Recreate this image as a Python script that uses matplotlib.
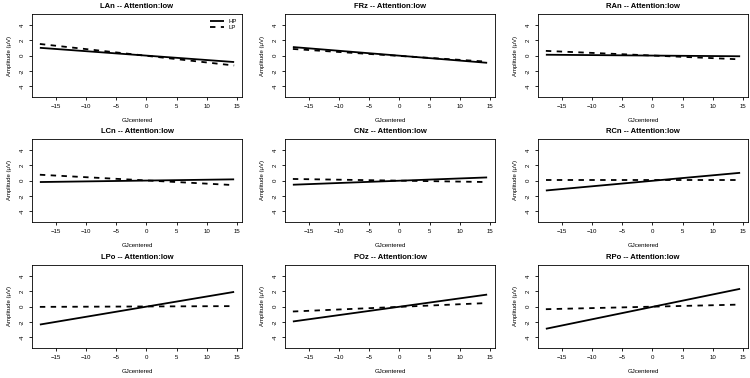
import matplotlib
matplotlib.use("Agg")
import matplotlib.pyplot as plt

plt.rcParams['font.family'] = ['Liberation Sans', 'DejaVu Sans']

channels = ["LAn", "FRz", "RAn", "LCn", "CNz", "RCn", "LPo", "POz", "RPo"]
x_ends = [-17.6, 14.5]
hp_vals = [[1.0, -0.85], [1.1, -0.95], [0.1, -0.1],
           [-0.2, 0.15], [-0.55, 0.4], [-1.3, 1.0],
           [-2.35, 1.9], [-1.95, 1.55], [-2.9, 2.3]]
lp_vals = [[1.5, -1.3], [0.85, -0.8], [0.6, -0.5],
           [0.75, -0.6], [0.2, -0.2], [0.02, 0.02],
           [-0.05, 0.05], [-0.65, 0.45], [-0.35, 0.25]]
xticks = [-15, -10, -5, 0, 5, 10, 15]
yticks = [-4, -2, 0, 2, 4]

W, H = 750, 378
fig = plt.figure(figsize=(W / 100, H / 100), dpi=100)

col_left = [32, 285, 538]
row_top = [14, 139, 265]
bw, bh = 210, 83

for i, ch in enumerate(channels):
    r, c = divmod(i, 3)
    ax = fig.add_axes([col_left[c] / W, 1 - (row_top[r] + bh) / H, bw / W, bh / H])
    ax.plot(x_ends, hp_vals[i], color='black', lw=1.3, solid_capstyle='butt', label='HP')
    ax.plot(x_ends, lp_vals[i], color='black', lw=1.3, dashes=(3, 3), label='LP')
    ax.set_xlim(-18.9, 15.8)
    ax.set_ylim(-5.4, 5.4)
    ax.set_xticks(xticks)
    ax.set_yticks(yticks)
    ax.set_yticklabels([str(v) for v in yticks], rotation=90, va='center')
    ax.tick_params(direction='out', length=2.3, width=0.6, labelsize=4.4, pad=2.6)
    for s in ax.spines.values():
        s.set_linewidth(0.6)
    ax.set_title(f"{ch} -- Attention:low", fontsize=5.5, fontweight='bold', pad=4)
    ax.set_xlabel("GJcentered", fontsize=4.4, labelpad=6.5)
    ax.set_ylabel("Amplitude (\u03bcV)", fontsize=4.3, labelpad=6)
    if i == 0:
        ax.legend(loc='upper right', frameon=False, fontsize=4.3, handlelength=2.4,
                  borderaxespad=0.4, labelspacing=0.2)

fig.savefig("out.png", dpi=100)
